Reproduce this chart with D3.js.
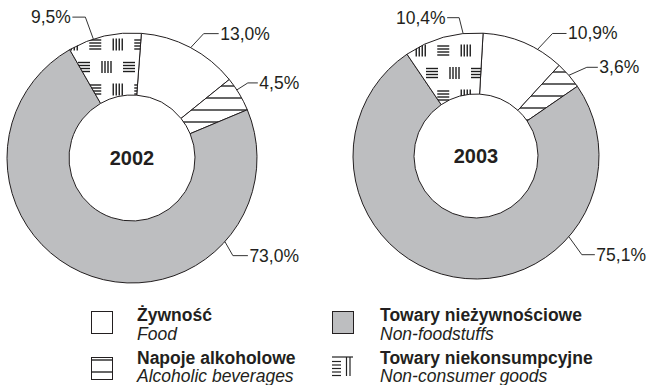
<!DOCTYPE html>
<html>
<head>
<meta charset="utf-8">
<script src="https://cdn.jsdelivr.net/npm/d3@7"></script>
<style>
  html, body { margin: 0; padding: 0; background: #fff; }
  svg { display: block; }
  text { font-family: "Liberation Sans", Arial, sans-serif; fill: #231f20; }
</style>
</head>
<body>
<svg id="chart" width="647" height="385"></svg>
<script>
// Retail sales structure by commodity group (%)
const categories = ["Żywność", "Napoje alkoholowe", "Towary nieżywnościowe", "Towary niekonsumpcyjne"];
const categoriesEn = ["Food", "Alcoholic beverages", "Non-foodstuffs", "Non-consumer goods"];
const years = ["2002", "2003"];
const values2002 = [13.0, 4.5, 73.0, 9.5];
const values2003 = [10.9, 3.6, 75.1, 10.4];

const fmt = v => d3.format(".1f")(v).replace(".", ",") + "%";

const svg = d3.select("#chart");
const defs = svg.append("defs");
const INK = "#231f20";
const GREY = "#bdbec0";

// horizontal hatching (alcoholic beverages)
const hatch = defs.append("pattern")
  .attr("id", "hatch-h").attr("patternUnits", "userSpaceOnUse")
  .attr("x", 0).attr("y", -6).attr("width", 12).attr("height", 12);
hatch.append("rect").attr("width", 12).attr("height", 12).attr("fill", "#fff");
hatch.append("line").attr("x1", 0).attr("x2", 12).attr("y1", 6).attr("y2", 6)
  .attr("stroke", "#333").attr("stroke-width", 1.5);

// basket-weave of line groups (non-consumer goods)
function drawGroup(g, cx, cy, horizontal) {
  const offs = [-4.5, -1.5, 1.5, 4.5];
  offs.forEach(o => {
    if (horizontal) {
      g.append("line").attr("x1", cx - 6).attr("x2", cx + 6).attr("y1", cy + o).attr("y2", cy + o);
    } else {
      g.append("line").attr("x1", cx + o).attr("x2", cx + o).attr("y1", cy - 6).attr("y2", cy + 6);
    }
  });
}
function weavePattern(id, ox, oy) {
  const W = 45;
  const p = defs.append("pattern").attr("id", id).attr("patternUnits", "userSpaceOnUse")
    .attr("x", ox).attr("y", oy).attr("width", W).attr("height", W);
  p.append("rect").attr("width", W).attr("height", W).attr("fill", "#fff");
  const g = p.append("g").attr("stroke", "#1e1e1e").attr("stroke-width", 1.4);
  drawGroup(g, 11, 11, true);
  drawGroup(g, 33.5, 11, false);
  drawGroup(g, 22.25, 33.5, true);
  drawGroup(g, 44.75, 33.5, false);
  drawGroup(g, -0.25, 33.5, false);
}
weavePattern("weave-2002", 76, 33);
weavePattern("weave-2003", 440, 41);

const fills = [
  () => "#fff",
  () => "url(#hatch-h)",
  () => GREY,
  y => `url(#weave-${y})`
];

// ring geometry and label leaders for each year
const charts = [
  { year: years[0], values: values2002, cx: 132, cy: 158, R: 125, r: 63, start: 4.3,
    leaderAngle: [28, 57, 132, 342],
    elbow: [[13, -14], [11, -7], [8, 14], [-8, -22]],
    run: [15, 10, 15, -13] },
  { year: years[1], values: values2003, cx: 476, cy: 156, R: 123, r: 62, start: 3.3,
    leaderAngle: [30, 49, 131, 354],
    elbow: [[15, -16], [18, -8], [13, 18], [-4, -16]],
    run: [14, 11, 13, -12] }
];

const rad = d => d * Math.PI / 180;

charts.forEach(c => {
  const pie = d3.pie().sort(null).value(d => d)
    .startAngle(rad(c.start)).endAngle(rad(c.start) + 2 * Math.PI);
  const arc = d3.arc().innerRadius(c.r).outerRadius(c.R);
  const g = svg.append("g").attr("transform", `translate(${c.cx},${c.cy})`);

  g.selectAll("path.slice").data(pie(c.values)).join("path")
    .attr("class", "slice")
    .attr("d", arc)
    .attr("fill", (d, i) => fills[i](c.year))
    .attr("stroke", INK).attr("stroke-width", 1)
    .attr("stroke-linejoin", "round");

  g.append("text").attr("x", 0).attr("y", 7)
    .attr("text-anchor", "middle")
    .attr("font-size", 20).attr("font-weight", "bold")
    .text(c.year);

  // leader lines and percentage labels
  c.values.forEach((v, i) => {
    const a = rad(c.leaderAngle[i]);
    const tx = c.R * Math.sin(a), ty = -c.R * Math.cos(a);
    const ex = tx + c.elbow[i][0], ey = ty + c.elbow[i][1];
    const hx = ex + c.run[i];
    g.append("path")
      .attr("d", d3.line()([[tx, ty], [ex, ey], [hx, ey]]))
      .attr("fill", "none").attr("stroke", "#333").attr("stroke-width", 1);
    const right = c.run[i] > 0;
    g.append("text")
      .attr("x", right ? hx + 1.5 : hx - 1.5)
      .attr("y", ey + 6)
      .attr("text-anchor", right ? "start" : "end")
      .attr("font-size", 17.5)
      .text(fmt(v));
  });
});

// legend
const legend = svg.append("g");
const legendItems = [
  { i: 0, x: 91, y: 311, tx: 137, b1: 320.5, b2: 339.5 },
  { i: 1, x: 91, y: 357, tx: 137, b1: 364, b2: 381.5 },
  { i: 2, x: 332, y: 311, tx: 380, b1: 320.5, b2: 339.5 },
  { i: 3, x: 332, y: 357, tx: 380, b1: 364, b2: 381.5 }
];
legendItems.forEach(it => {
  const g = legend.append("g");
  if (it.i === 3) {
    const s = g.append("g").attr("stroke", "#222").attr("stroke-width", 1.2);
    s.append("line").attr("x1", it.x).attr("x2", it.x + 21).attr("y1", it.y).attr("y2", it.y);
    [4.5, 8, 11.5, 15, 18.5].forEach(o =>
      s.append("line").attr("x1", it.x).attr("x2", it.x + 9).attr("y1", it.y + o).attr("y2", it.y + o));
    [14.5, 18].forEach(o =>
      s.append("line").attr("x1", it.x + o).attr("x2", it.x + o).attr("y1", it.y).attr("y2", it.y + 19));
  } else {
    g.append("rect").attr("x", it.x + 0.5).attr("y", it.y + 0.5)
      .attr("width", 21).attr("height", 22)
      .attr("fill", fills[it.i]("2002"))
      .attr("stroke", INK).attr("stroke-width", 1);
  }
  g.append("text").attr("x", it.tx).attr("y", it.b1)
    .attr("font-size", 17.5).attr("font-weight", "bold")
    .text(categories[it.i]);
  g.append("text").attr("x", it.tx).attr("y", it.b2)
    .attr("font-size", 17.5).attr("font-style", "italic")
    .text(categoriesEn[it.i]);
});
</script>
</body>
</html>
